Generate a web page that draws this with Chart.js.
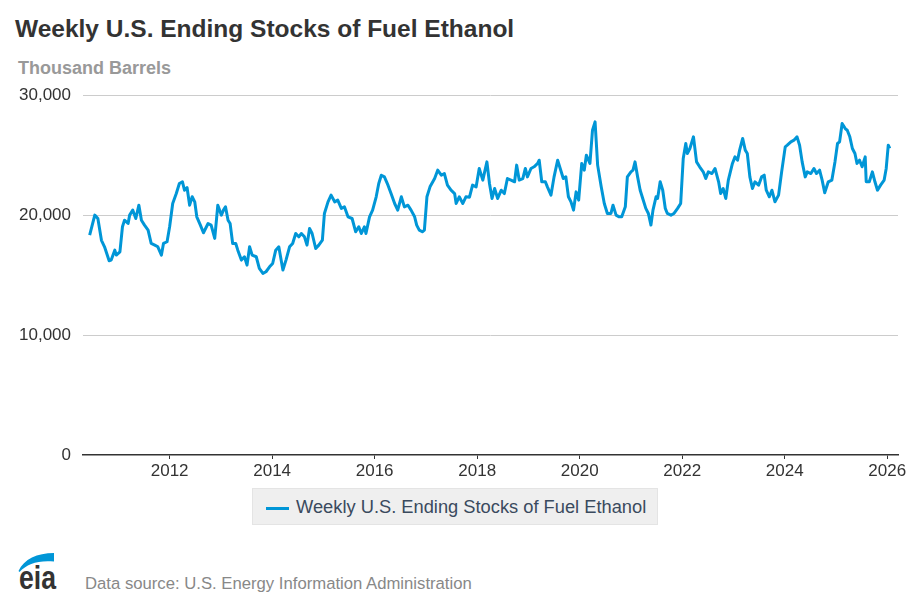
<!DOCTYPE html>
<html>
<head>
<meta charset="utf-8">
<script src="https://cdn.jsdelivr.net/npm/chart.js@4"></script>
<style>
  body { margin: 0; background: #fff; font-family: "Liberation Sans", Arial, sans-serif; }
  #page { position: relative; width: 914px; height: 609px; overflow: hidden; }
  #title { position: absolute; left: 15px; top: 15px; font-size: 24.5px; font-weight: bold; color: #333; white-space: nowrap; }
  #unit { position: absolute; left: 18px; top: 58px; font-size: 18px; font-weight: bold; color: #999; white-space: nowrap; }
  #chart { position: absolute; left: 0; top: 73px; }
  #legend { position: absolute; left: 252px; top: 488px; width: 404px; height: 35px; background: #efefef; border: 1px solid #e4e4e4; }
  #legend .swatch { position: absolute; left: 13px; top: 18px; width: 23px; height: 3px; background: #0096d7; }
  #legend .label { position: absolute; left: 43px; top: 7px; font-size: 18.3px; color: #3a4a5e; white-space: nowrap; }
  #logo { position: absolute; left: 0; top: 540px; }
  #source { position: absolute; left: 85px; top: 574px; font-size: 16.7px; color: #888; white-space: nowrap; }
</style>
</head>
<body>
<div id="page">
  <div id="title">Weekly U.S. Ending Stocks of Fuel Ethanol</div>
  <div id="unit">Thousand Barrels</div>
  <canvas id="chart" width="914" height="410" style="width:914px;height:410px"></canvas>
  <div id="legend"><div class="swatch"></div><div class="label">Weekly U.S. Ending Stocks of Fuel Ethanol</div></div>
  <svg id="logo" width="80" height="60" viewBox="0 540 80 60">
    <path d="M18.5,571 C24,559 37,553 54,553 L54,561.5 C38,560 27,564 19.5,572 Z" fill="#0096d7"/>
    <text x="19" y="589" font-family="Liberation Sans, Arial, sans-serif" font-size="33" font-weight="bold" fill="#333" textLength="37" lengthAdjust="spacingAndGlyphs">eia</text>
  </svg>
  <div id="source">Data source: U.S. Energy Information Administration</div>
</div>
<script>
// week positions (decimal years) and ending stocks (thousand barrels)
const weeks = [
  2010.44, 2010.54, 2010.60, 2010.67, 2010.73, 2010.82, 2010.86, 2010.93, 2010.96, 2011.03,
  2011.08, 2011.12, 2011.19, 2011.22, 2011.28, 2011.34, 2011.40, 2011.45, 2011.51, 2011.58,
  2011.64, 2011.71, 2011.77, 2011.84, 2011.88, 2011.95, 2012.00, 2012.06, 2012.13, 2012.19,
  2012.25, 2012.29, 2012.34, 2012.39, 2012.44, 2012.49, 2012.53, 2012.60, 2012.66, 2012.75,
  2012.81, 2012.88, 2012.94, 2013.01, 2013.05, 2013.09, 2013.14, 2013.18, 2013.23, 2013.29,
  2013.33, 2013.40, 2013.46, 2013.51, 2013.56, 2013.61, 2013.69, 2013.75, 2013.82, 2013.88,
  2013.95, 2014.01, 2014.07, 2014.13, 2014.21, 2014.27, 2014.34, 2014.40, 2014.46, 2014.52,
  2014.57, 2014.63, 2014.68, 2014.73, 2014.78, 2014.85, 2014.91, 2014.98, 2015.02, 2015.09,
  2015.15, 2015.22, 2015.28, 2015.35, 2015.41, 2015.48, 2015.56, 2015.63, 2015.69, 2015.74,
  2015.80, 2015.83, 2015.90, 2015.96, 2016.03, 2016.08, 2016.13, 2016.19, 2016.26, 2016.32,
  2016.39, 2016.45, 2016.52, 2016.58, 2016.65, 2016.71, 2016.78, 2016.82, 2016.87, 2016.93,
  2016.97, 2017.02, 2017.08, 2017.17, 2017.23, 2017.30, 2017.36, 2017.42, 2017.49, 2017.56,
  2017.59, 2017.65, 2017.72, 2017.78, 2017.85, 2017.91, 2017.98, 2018.04, 2018.11, 2018.19,
  2018.24, 2018.29, 2018.34, 2018.40, 2018.47, 2018.53, 2018.59, 2018.66, 2018.73, 2018.77,
  2018.82, 2018.89, 2018.94, 2018.98, 2019.05, 2019.11, 2019.18, 2019.21, 2019.26, 2019.33,
  2019.37, 2019.44, 2019.50, 2019.57, 2019.62, 2019.68, 2019.73, 2019.78, 2019.83, 2019.88,
  2019.93, 2019.98, 2020.04, 2020.09, 2020.13, 2020.20, 2020.25, 2020.30, 2020.35, 2020.42,
  2020.48, 2020.54, 2020.61, 2020.65, 2020.71, 2020.77, 2020.82, 2020.89, 2020.93, 2021.00,
  2021.04, 2021.08, 2021.13, 2021.18, 2021.23, 2021.29, 2021.34, 2021.39, 2021.43, 2021.49,
  2021.52, 2021.57, 2021.62, 2021.67, 2021.71, 2021.78, 2021.84, 2021.91, 2021.97, 2022.02,
  2022.07, 2022.10, 2022.15, 2022.22, 2022.28, 2022.34, 2022.41, 2022.46, 2022.51, 2022.58,
  2022.64, 2022.71, 2022.75, 2022.80, 2022.85, 2022.90, 2022.98, 2023.03, 2023.08, 2023.12,
  2023.18, 2023.23, 2023.27, 2023.32, 2023.37, 2023.42, 2023.49, 2023.55, 2023.60, 2023.64,
  2023.70, 2023.75, 2023.81, 2023.88, 2023.94, 2024.01, 2024.05, 2024.12, 2024.18, 2024.24,
  2024.29, 2024.34, 2024.40, 2024.44, 2024.51, 2024.57, 2024.62, 2024.68, 2024.73, 2024.78,
  2024.85, 2024.92, 2024.98, 2025.03, 2025.07, 2025.12, 2025.18, 2025.22, 2025.27, 2025.32,
  2025.37, 2025.41, 2025.46, 2025.51, 2025.57, 2025.59, 2025.65, 2025.71, 2025.76, 2025.81,
  2025.87, 2025.94, 2025.98, 2026.02, 2026.05
];
const stocks = [
  18330, 20000, 19720, 17900, 17360, 16200, 16250, 17080, 16670, 16940,
  19030, 19580, 19300, 20000, 20420, 19720, 20830, 19580, 19170, 18750,
  17640, 17500, 17360, 16670, 17640, 17780, 19030, 20970, 21800, 22640,
  22780, 22080, 22300, 20830, 21530, 21110, 19860, 19170, 18530, 19300,
  19170, 18060, 20830, 20000, 20420, 20690, 19580, 19300, 17640, 17640,
  17080, 16250, 16530, 15830, 17360, 16670, 16530, 15560, 15140, 15280,
  15690, 15970, 17080, 17360, 15420, 16250, 17360, 17640, 18470, 18190,
  18470, 18190, 17500, 18890, 18470, 17220, 17500, 17920, 20140, 21110,
  21670, 21110, 21250, 20560, 20690, 19860, 19720, 18610, 19030, 18470,
  19030, 18470, 19860, 20420, 21530, 22640, 23330, 23190, 22500, 21800,
  20970, 20420, 21530, 20690, 20830, 20420, 19860, 19170, 18750, 18610,
  18750, 21530, 22360, 23050, 23750, 23330, 23470, 22500, 22080, 21800,
  20970, 21530, 20970, 21530, 21500, 22500, 22360, 23890, 22920, 24440,
  22640, 21390, 22220, 21390, 22080, 21800, 23050, 22920, 22780, 24170,
  22920, 23050, 23890, 23190, 23890, 24030, 24310, 24580, 22780, 22780,
  22360, 21670, 23190, 24580, 23890, 23050, 23190, 21530, 21110, 20420,
  21940, 21250, 24310, 23750, 25000, 24310, 27080, 27780, 24170, 22360,
  20970, 20140, 20140, 20830, 20000, 19860, 19860, 20690, 23190, 23610,
  23750, 24440, 23190, 22080, 21390, 20560, 20140, 19170, 20420, 21530,
  21390, 22780, 22080, 20560, 20140, 20000, 20140, 20560, 20970, 24720,
  25970, 25140, 25560, 26530, 24440, 24030, 23610, 23050, 23610, 23470,
  23890, 22780, 21800, 22220, 21390, 22920, 24310, 24860, 24580, 25420,
  26390, 25420, 25140, 23190, 22220, 22780, 22500, 23190, 23330, 22080,
  21530, 22080, 21110, 21670, 23610, 25690, 25830, 26110, 26250, 26530,
  25830, 24440, 23190, 23610, 23470, 23890, 23470, 23750, 22920, 21860,
  22780, 22920, 24440, 25970, 26110, 27640, 27220, 27080, 26530, 25560,
  25140, 24310, 24580, 24030, 24860, 22780, 22780, 23610, 22780, 22080,
  22500, 22920, 23890, 25830, 25560
];
const yearTicks = [2012, 2014, 2016, 2018, 2020, 2022, 2024, 2026];
const valueTicks = [0, 10000, 20000, 30000];

const points = weeks.map((w, i) => ({ x: w, y: stocks[i] }));

const chart = new Chart(document.getElementById("chart"), {
  type: "line",
  data: {
    datasets: [
      {
        label: "Weekly U.S. Ending Stocks of Fuel Ethanol",
        data: points,
        borderColor: "#0096d7",
        borderWidth: 3,
        borderJoinStyle: "round",
        pointRadius: 0,
        tension: 0,
        fill: false,
      },
    ],
  },
  options: {
    responsive: false,
    animation: false,
    layout: { padding: { top: 4, right: 16, left: 0, bottom: 0 } },
    plugins: { legend: { display: false }, tooltip: { enabled: false } },
    scales: {
      x: {
        type: "linear",
        min: 2010.31,
        max: 2026.21,
        afterFit: (s) => { s.height = 28; },
        afterBuildTicks: (s) => { s.ticks = yearTicks.map((v) => ({ value: v })); },
        grid: { drawOnChartArea: false, drawTicks: true, tickLength: 4, color: "#333", lineWidth: 1 },
        border: { display: true, color: "#333", width: 1.5 },
        ticks: {
          padding: 2,
          maxRotation: 0,
          color: "#333",
          font: { family: "Liberation Sans", size: 17 },
          callback: (v) => String(v),
        },
      },
      y: {
        min: 0,
        max: 30000,
        afterFit: (s) => { s.width = 83; },
        afterBuildTicks: (s) => { s.ticks = valueTicks.map((v) => ({ value: v })); },
        grid: {
          drawTicks: false,
          color: (c) => (c.tick && c.tick.value === 0 ? "rgba(0,0,0,0)" : "#cccccc"),
        },
        border: { display: false },
        ticks: {
          padding: 12,
          color: "#333",
          font: { family: "Liberation Sans", size: 17 },
          callback: (v) => v.toLocaleString("en-US"),
        },
      },
    },
  },
});
</script>
</body>
</html>
